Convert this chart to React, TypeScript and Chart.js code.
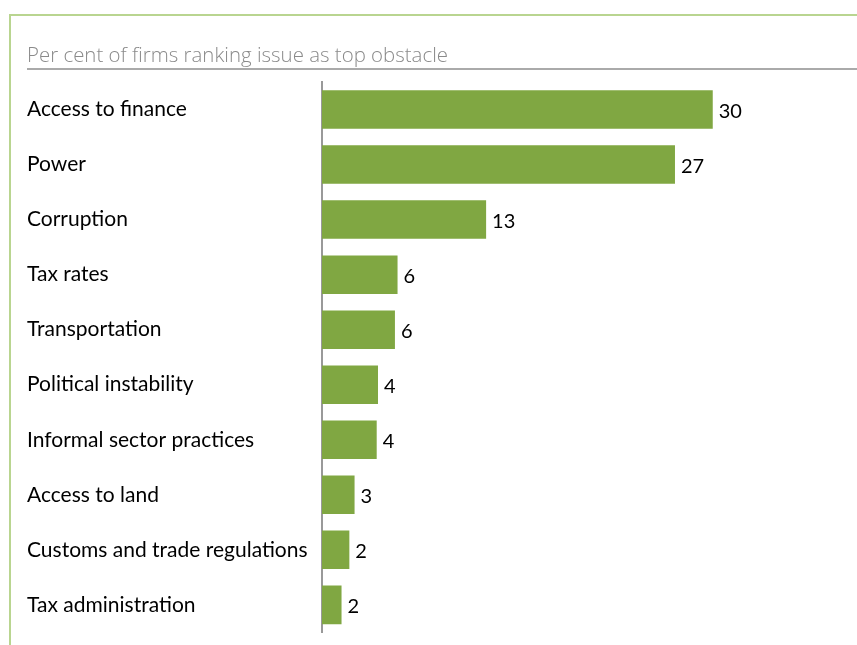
import React, { useEffect, useRef } from "react";
import { Chart, registerables } from "chart.js";

Chart.register(...registerables);

const categories = [
  "Access to finance",
  "Power",
  "Corruption",
  "Tax rates",
  "Transportation",
  "Political instability",
  "Informal sector practices",
  "Access to land",
  "Customs and trade regulations",
  "Tax administration",
];
const values = [30, 27.1, 12.6, 5.8, 5.6, 4.3, 4.2, 2.5, 2.1, 1.5];
const valueLabels = ["30", "27", "13", "6", "6", "4", "4", "3", "2", "2"];
const titleText = "Per cent of firms ranking issue as top obstacle";

const BAR_COLOR = "#80a742";
const LABEL_FONT = "Lato";

const framePlugin = {
  id: "frame",
  beforeDraw(chart: any) {
    const ctx = chart.ctx;
    ctx.save();
    ctx.fillStyle = "#ffffff";
    ctx.fillRect(0, 0, chart.width, chart.height);
    // green frame top & left
    ctx.strokeStyle = "#b9d590";
    ctx.lineWidth = 2;
    ctx.beginPath();
    ctx.moveTo(10, chart.height);
    ctx.lineTo(10, 15);
    ctx.lineTo(chart.width, 15);
    ctx.stroke();
    // title
    ctx.font = `300 21px "Open Sans"`;
    ctx.fillStyle = "#8a8a8a";
    ctx.textBaseline = "alphabetic";
    const w = ctx.measureText(titleText).width;
    const sx = 421 / w;
    ctx.translate(27, 62);
    ctx.scale(sx, 1);
    ctx.fillText(titleText, 0, 0);
    ctx.restore();
    ctx.save();
    ctx.strokeStyle = "#aaaaaa";
    ctx.lineWidth = 2;
    ctx.beginPath();
    ctx.moveTo(27, 69);
    ctx.lineTo(chart.width, 69);
    ctx.stroke();
    ctx.restore();
  },
};

const valuePlugin = {
  id: "valueLabels",
  afterDatasetsDraw(chart: any) {
    const ctx = chart.ctx;
    const meta = chart.getDatasetMeta(0);
    ctx.save();
    ctx.font = `20px "${LABEL_FONT}"`;
    ctx.fillStyle = "#000000";
    ctx.textAlign = "left";
    ctx.textBaseline = "middle";
    meta.data.forEach((bar: any, i: number) => {
      ctx.fillText(valueLabels[i], bar.x + 6, bar.y + 2);
    });
    ctx.restore();
  },
};

export default function App() {
  const ref = useRef<HTMLCanvasElement>(null);
  useEffect(() => {
    if (!ref.current) return;
    const chart = new Chart(ref.current, {
      type: "bar",
      data: {
        labels: categories,
        datasets: [
          {
            data: values,
            backgroundColor: BAR_COLOR,
            borderWidth: 0,
            barPercentage: 0.7,
            categoryPercentage: 1.0,
          },
        ],
      },
      options: {
        animation: false,
        responsive: false,
        indexAxis: "y",
        layout: { padding: { left: 27, top: 82, right: 14, bottom: 6 } },
        plugins: {
          legend: { display: false },
          tooltip: { enabled: false },
          title: { display: false },
        },
        scales: {
          x: { display: false, min: 0, max: 40 },
          y: {
            grid: { display: false },
            border: { display: true, color: "#999999", width: 2 },
            ticks: {
              crossAlign: "far",
              color: "#000000",
              font: { family: LABEL_FONT, size: 21 },
              padding: 0,
            },
            afterFit(scale: any) {
              scale.width = 295;
            },
          },
        },
      },
      plugins: [framePlugin, valuePlugin],
    } as any);
    return () => chart.destroy();
  }, []);
  return (
    <div style={{ position: "fixed", left: 0, top: 0, width: 857, height: 645, background: "#fff" }}>
      <canvas ref={ref} width={857} height={645} style={{ width: 857, height: 645, display: "block" }} />
    </div>
  );
}
